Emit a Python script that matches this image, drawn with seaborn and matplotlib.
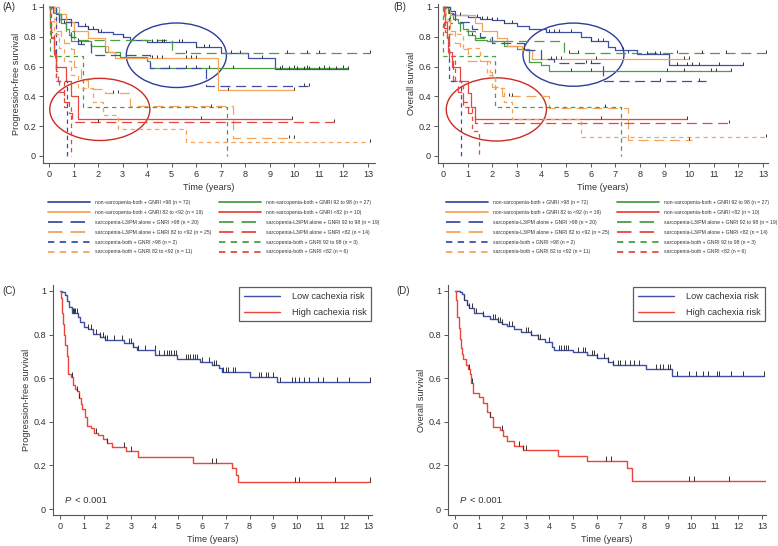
import numpy as np
import pandas as pd
import matplotlib
matplotlib.use("Agg")
import matplotlib.pyplot as plt
import seaborn as sns
from matplotlib.lines import Line2D
from matplotlib.patches import Ellipse
from matplotlib.path import Path

# ---------------- data ----------------
time_ticks = list(range(0, 14))
surv_ticks = [0, 0.2, 0.4, 0.6, 0.8, 1.0]
surv_tick_labels = ["0", "0.2", "0.4", "0.6", "0.8", "1"]

group_labels = [
    "non-sarcopenia-both + GNRI >98 (n = 72)",
    "non-sarcopenia-both + GNRI 92 to 98 (n = 27)",
    "non-sarcopenia-both + GNRI 82 to <92 (n = 19)",
    "non-sarcopenia-both + GNRI <82 (n = 10)",
    "sarcopenia-L3/PM alone + GNRI >98 (n = 20)",
    "sarcopenia-L3/PM alone + GNRI 92 to 98 (n = 19)",
    "sarcopenia-L3/PM alone + GNRI 82 to <92 (n = 25)",
    "sarcopenia-L3/PM alone + GNRI <82 (n = 14)",
    "sarcopenia-both + GNRI >98 (n = 2)",
    "sarcopenia-both + GNRI 92 to 98 (n = 3)",
    "sarcopenia-both + GNRI 82 to <92 (n = 11)",
    "sarcopenia-both + GNRI <82 (n = 6)",
]
cachexia_labels = ["Low cachexia risk", "High cachexia risk"]

# Panel A: progression-free survival by group
A_nb98_t = [0, 0.3, 0.5, 0.9, 1.2, 1.6, 2.0, 2.6, 3.0, 3.3, 4.0, 6.0, 7.0, 8.1, 9.2, 12.2]
A_nb98_s = [1, 0.95, 0.92, 0.90, 0.87, 0.85, 0.83, 0.82, 0.80, 0.78, 0.765, 0.73, 0.69, 0.655, 0.585, 0.585]
A_nb98_c = [1.45, 1.6, 1.8, 2.0, 2.1, 3.0, 4.2, 4.4, 4.6, 4.7, 5.3, 5.4, 6.0, 6.3, 6.5, 7.4, 7.8, 8.7,
            9.4, 9.8, 10.1, 10.4, 10.6, 11.0, 11.4, 11.7, 12.2]
A_nb92_t = [0, 0.2, 0.4, 0.5, 0.7, 0.8, 0.9, 1.7, 2.3, 2.9, 4.0, 4.1, 12.2]
A_nb92_s = [1, 0.96, 0.92, 0.89, 0.85, 0.81, 0.775, 0.74, 0.70, 0.665, 0.64, 0.59, 0.59]
A_nb92_c = [0.6, 1.2, 4.9, 5.6, 6.0, 6.5, 7.5, 9.5, 10.0, 10.5, 11.2, 12.0]
A_nb82_t = [0, 0.4, 0.7, 1.0, 1.6, 2.3, 2.4, 2.7, 6.9, 10.0]
A_nb82_s = [1, 0.95, 0.90, 0.84, 0.79, 0.74, 0.70, 0.655, 0.44, 0.44]
A_nb82_c = [4.2, 4.4, 4.6, 5.6, 5.8, 6.0, 7.3, 10.0]
A_nblo_t = [0, 0.05, 0.1, 0.2, 0.3, 0.7, 0.9, 1.2, 9.9]
A_nblo_s = [1, 0.9, 0.8, 0.7, 0.6, 0.5, 0.4, 0.25, 0.25]
A_nblo_c = [6.2, 9.9]
A_l98_t = [0, 0.15, 0.4, 0.9, 1.2, 1.7, 4.1, 6.4, 10.6]
A_l98_s = [1, 0.95, 0.90, 0.80, 0.75, 0.675, 0.59, 0.47, 0.47]
A_l98_c = [1.3, 10.4, 10.6]
A_l92_t = [0, 0.2, 0.5, 0.7, 1.0, 5.0, 13.1]
A_l92_s = [1, 0.95, 0.89, 0.84, 0.78, 0.69, 0.69]
A_l92_c = [5.6, 9.7, 10.5, 11.0, 13.1]
A_l82_t = [0, 0.2, 0.3, 0.5, 0.6, 0.9, 1.0, 1.3, 1.6, 2.3, 3.3, 7.5, 10.0]
A_l82_s = [1, 0.92, 0.84, 0.80, 0.76, 0.72, 0.60, 0.51, 0.45, 0.42, 0.335, 0.12, 0.12]
A_l82_c = [2.6, 2.8, 9.8, 10.0]
A_llo_t = [0, 0.05, 0.1, 0.2, 0.25, 0.3, 0.35, 0.4, 0.6, 0.8, 0.95, 11.6]
A_llo_s = [1, 0.86, 0.79, 0.71, 0.64, 0.57, 0.50, 0.43, 0.36, 0.29, 0.225, 0.225]
A_llo_c = [2.0, 11.6]
A_b98_t = [0, 0.3, 0.75]
A_b98_s = [1, 0.5, 0]
A_b92_t = [0, 0.02, 1.4, 7.25]
A_b92_s = [1, 0.67, 0.33, 0]
A_b92_c = [6.6]
A_b82_t = [0, 0.1, 0.2, 0.4, 0.6, 0.9, 1.2, 1.8, 2.2, 2.8, 5.6, 13.1]
A_b82_s = [1, 0.909, 0.818, 0.727, 0.636, 0.545, 0.455, 0.364, 0.273, 0.182, 0.091, 0.091]
A_b82_c = [13.1]
A_blo_t = [0, 0.1, 0.2, 0.3, 0.6, 0.9]
A_blo_s = [1, 0.83, 0.67, 0.5, 0.33, 0]

# Panel B: overall survival by group
B_nb98_t = [0, 0.3, 0.5, 1.0, 1.5, 2.0, 2.5, 3.0, 3.5, 4.2, 5.6, 6.0, 6.7, 7.0, 7.9, 9.2, 12.2]
B_nb98_s = [1, 0.97, 0.945, 0.93, 0.92, 0.91, 0.89, 0.875, 0.855, 0.83, 0.80, 0.775, 0.73, 0.71, 0.685, 0.61, 0.61]
B_nb98_c = [0.7, 1.4, 1.6, 1.8, 2.0, 2.2, 2.5, 2.8, 4.3, 4.5, 4.7, 5.2, 6.0, 6.3, 6.5, 7.3, 8.3, 8.6, 8.8,
            9.5, 9.9, 10.1, 10.4, 11.2, 12.2]
B_nb92_t = [0, 0.2, 0.4, 0.6, 0.8, 1.0, 1.3, 1.8, 2.5, 3.0, 3.5, 4.0, 4.3, 11.7]
B_nb92_s = [1, 0.96, 0.92, 0.89, 0.85, 0.81, 0.78, 0.77, 0.74, 0.715, 0.63, 0.61, 0.57, 0.57]
B_nb92_c = [1.2, 5.2, 6.0, 9.1, 9.8, 10.9, 11.1, 11.7]
B_nb82_t = [0, 0.3, 1.3, 1.6, 2.2, 2.6, 3.2, 3.6, 10.0]
B_nb82_s = [1, 0.947, 0.895, 0.84, 0.79, 0.74, 0.71, 0.65, 0.65]
B_nb82_c = [4.4, 4.6, 4.8, 6.2, 9.8, 10.0]
B_nblo_t = [0, 0.1, 0.15, 0.2, 0.35, 0.7, 1.0, 1.15, 1.3, 9.9]
B_nblo_s = [1, 0.9, 0.8, 0.7, 0.6, 0.5, 0.42, 0.33, 0.25, 0.25]
B_nblo_c = [6.4, 9.9]
B_l98_t = [0, 0.3, 0.5, 1.2, 1.5, 2.0, 3.3, 4.0, 4.5, 6.5, 10.7]
B_l98_s = [1, 0.95, 0.90, 0.85, 0.80, 0.76, 0.71, 0.65, 0.625, 0.5, 0.5]
B_l98_c = [3.3, 5.8, 6.0, 8.8, 10.4]
B_l92_t = [0, 0.1, 0.3, 0.7, 1.3, 1.9, 4.9, 13.1]
B_l92_s = [1, 0.95, 0.89, 0.84, 0.79, 0.77, 0.69, 0.69]
B_l92_c = [5.1, 5.5, 7.5, 9.5, 10.5, 11.5, 13.1]
B_l82_t = [0, 0.1, 0.3, 0.5, 0.7, 1.0, 1.9, 2.0, 2.4, 4.3, 7.5, 10.1]
B_l82_s = [1, 0.92, 0.84, 0.76, 0.72, 0.64, 0.565, 0.46, 0.40, 0.32, 0.11, 0.11]
B_l82_c = [2.7, 2.8, 10.0]
B_llo_t = [0, 0.05, 0.15, 0.25, 0.4, 0.6, 0.8, 1.0, 1.3, 11.6]
B_llo_s = [1, 0.86, 0.79, 0.64, 0.50, 0.43, 0.36, 0.29, 0.22, 0.22]
B_llo_c = [11.6]
B_b98_t = [0, 0.25, 0.75]
B_b98_s = [1, 0.5, 0]
B_b92_t = [0, 0.02, 2.1, 7.25]
B_b92_s = [1, 0.67, 0.33, 0]
B_b92_c = [6.6]
B_b82_t = [0, 0.1, 0.3, 0.8, 1.5, 1.8, 2.1, 2.5, 2.8, 5.6, 13.1]
B_b82_s = [1, 0.909, 0.818, 0.727, 0.636, 0.545, 0.455, 0.364, 0.25, 0.125, 0.125]
B_b82_c = [13.1]
B_blo_t = [0, 0.1, 0.25, 0.5, 0.8, 1.2, 1.45]
B_blo_s = [1, 0.83, 0.67, 0.5, 0.33, 0.17, 0]

# Panel C: progression-free survival by cachexia risk
C_low_t = [0, 0.1, 0.2, 0.3, 0.4, 0.5, 0.75, 0.85, 1.0, 1.2, 1.4, 1.7, 1.9, 2.7, 3.1, 3.25, 4.02, 4.95,
           5.9, 6.4, 6.7, 6.85, 8.0, 9.15, 13.1]
C_low_s = [1, 0.995, 0.98, 0.955, 0.925, 0.90, 0.88, 0.86, 0.835, 0.826, 0.805, 0.79, 0.775, 0.76, 0.745,
           0.73, 0.705, 0.69, 0.675, 0.66, 0.645, 0.628, 0.607, 0.582, 0.582]
C_low_c = [0.55, 0.6, 0.65, 0.7, 1.2, 1.3, 1.5, 1.7, 1.8, 1.9, 2.0, 2.3, 2.6, 2.9, 3.0, 3.1, 3.3, 3.6, 4.0,
           4.2, 4.4, 4.5, 4.6, 4.7, 4.8, 4.9, 5.3, 5.4, 5.5, 5.6, 5.7, 5.8, 6.0, 6.3, 6.5, 6.6, 6.9, 7.0,
           7.1, 7.3, 7.4, 8.4, 8.5, 8.7, 8.8, 9.0, 9.3, 9.8, 9.9, 10.1, 10.3, 10.5, 10.9, 11.1, 11.7,
           12.2, 13.1]
C_high_t = [0, 0.03, 0.07, 0.1, 0.14, 0.18, 0.22, 0.28, 0.35, 0.45, 0.55, 0.62, 0.7, 0.8, 0.88, 0.95,
            1.05, 1.15, 1.3, 1.45, 1.6, 1.8, 2.0, 2.2, 2.8, 3.3, 5.6, 7.25, 7.45, 7.52, 13.1]
C_high_s = [1, 0.97, 0.94, 0.90, 0.85, 0.80, 0.75, 0.70, 0.62, 0.605, 0.57, 0.55, 0.54, 0.51, 0.48, 0.46,
            0.42, 0.38, 0.37, 0.35, 0.34, 0.32, 0.305, 0.285, 0.265, 0.24, 0.213, 0.187, 0.155, 0.123, 0.123]
C_high_c = [0.5, 0.7, 0.8, 1.5, 2.0, 2.7, 3.0, 6.4, 6.6, 9.9, 10.1, 11.6, 13.1]

# Panel D: overall survival by cachexia risk
D_low_t = [0, 0.2, 0.3, 0.4, 0.5, 0.6, 0.8, 1.2, 1.5, 1.8, 2.0, 2.2, 2.5, 2.8, 3.2, 3.5, 3.8, 4.1, 4.2,
           5.0, 5.6, 6.0, 6.5, 6.7, 8.1, 9.2, 13.1]
D_low_s = [1, 0.995, 0.985, 0.96, 0.935, 0.92, 0.90, 0.885, 0.87, 0.86, 0.85, 0.84, 0.825, 0.81, 0.797,
           0.78, 0.765, 0.745, 0.73, 0.722, 0.706, 0.694, 0.675, 0.66, 0.64, 0.61, 0.61]
D_low_c = [0.4, 0.5, 0.6, 0.7, 0.9, 1.2, 1.6, 1.7, 1.8, 1.9, 2.0, 2.3, 2.4, 3.0, 3.1, 3.2, 3.5, 3.6, 4.0,
           4.4, 4.5, 4.6, 4.7, 4.8, 5.2, 5.4, 5.5, 5.8, 5.9, 6.0, 6.3, 6.5, 6.7, 6.9, 7.0, 7.2, 7.4, 7.6,
           7.8, 8.5, 8.7, 8.8, 9.0, 9.1, 9.4, 9.9, 10.2, 10.5, 10.7, 11.1, 11.2, 11.7, 12.2, 13.1]
D_high_t = [0, 0.03, 0.07, 0.1, 0.15, 0.2, 0.25, 0.3, 0.35, 0.45, 0.55, 0.62, 0.68, 0.75, 1.0, 1.2, 1.35,
            1.5, 1.6, 1.9, 2.05, 2.2, 2.5, 2.9, 4.35, 5.6, 7.3, 7.5, 13.2]
D_high_s = [1, 0.96, 0.92, 0.88, 0.83, 0.78, 0.74, 0.71, 0.69, 0.66, 0.64, 0.62, 0.58, 0.53, 0.515, 0.485,
            0.447, 0.424, 0.378, 0.363, 0.335, 0.31, 0.29, 0.27, 0.245, 0.22, 0.19, 0.128, 0.128]
D_high_c = [0.6, 0.7, 1.5, 2.0, 2.7, 2.9, 3.0, 6.4, 6.6, 9.9, 10.1, 11.6, 13.2]

# ---------------- styling ----------------
BLUE, GREEN, ORANGE, RED = "#3f4fa3", "#4a9e45", "#f4a45a", "#e8473d"
SOLID, LONG, SHORT = "-", (0, (8, 4.5)), (0, (3.5, 3))
CENS = "#333333"
TICK_UP = Path([(0, 0), (0, 1)], [Path.MOVETO, Path.LINETO])  # censor tick rising from the curve

sns.set_theme(style="ticks")
plt.rcParams["font.family"] = ["Liberation Sans", "DejaVu Sans"]
plt.rcParams["text.color"] = "#333333"

W, H = 778, 546
fig = plt.figure(figsize=(W / 100, H / 100), dpi=100)


def add_ax(l, r, t, b):
    return fig.add_axes([l / W, 1 - b / H, (r - l) / W, (b - t) / H])


def km(ax, t, s, color, ls, lw, cens=None, msize=20):
    df = pd.DataFrame({"time": t, "surv": s})
    sns.lineplot(data=df, x="time", y="surv", ax=ax, color=color, linestyle=ls, lw=lw,
                 drawstyle="steps-post", estimator=None, errorbar=None, sort=False, legend=False)
    if cens:
        idx = np.searchsorted(np.asarray(t), np.asarray(cens), side="right") - 1
        cdf = pd.DataFrame({"time": cens, "surv": np.asarray(s)[idx]})
        sns.scatterplot(data=cdf, x="time", y="surv", ax=ax, marker=TICK_UP, s=msize,
                        color=CENS, edgecolor=CENS, linewidth=0.7, legend=False, zorder=5)


def style_ax(ax, xlim, ylim, ylabel, fs=6.6):
    ax.set_xlim(*xlim)
    ax.set_ylim(*ylim)
    ax.set_xticks(time_ticks)
    ax.set_xticklabels([str(v) for v in time_ticks])
    ax.set_yticks(surv_ticks)
    ax.set_yticklabels(surv_tick_labels)
    sns.despine(ax=ax)
    for sp in ("left", "bottom"):
        ax.spines[sp].set_color("#555555")
        ax.spines[sp].set_linewidth(0.8)
    ax.tick_params(direction="out", length=3, width=0.7, colors="#555555",
                   labelcolor="#333333", labelsize=fs, pad=2)
    ax.set_xlabel("Time (years)", fontsize=fs, labelpad=3, color="#333333")
    ax.set_ylabel(ylabel, fontsize=fs, labelpad=2, color="#333333")


group_styles = [
    (BLUE, SOLID), (GREEN, SOLID), (ORANGE, SOLID), (RED, SOLID),
    (BLUE, LONG), (GREEN, LONG), (ORANGE, LONG), (RED, LONG),
    (BLUE, SHORT), (GREEN, SHORT), (ORANGE, SHORT), (RED, SHORT),
]

A_curves = [
    (A_nb98_t, A_nb98_s, A_nb98_c), (A_nb92_t, A_nb92_s, A_nb92_c),
    (A_nb82_t, A_nb82_s, A_nb82_c), (A_nblo_t, A_nblo_s, A_nblo_c),
    (A_l98_t, A_l98_s, A_l98_c), (A_l92_t, A_l92_s, A_l92_c),
    (A_l82_t, A_l82_s, A_l82_c), (A_llo_t, A_llo_s, A_llo_c),
    (A_b98_t, A_b98_s, None), (A_b92_t, A_b92_s, A_b92_c),
    (A_b82_t, A_b82_s, A_b82_c), (A_blo_t, A_blo_s, None),
]
B_curves = [
    (B_nb98_t, B_nb98_s, B_nb98_c), (B_nb92_t, B_nb92_s, B_nb92_c),
    (B_nb82_t, B_nb82_s, B_nb82_c), (B_nblo_t, B_nblo_s, B_nblo_c),
    (B_l98_t, B_l98_s, B_l98_c), (B_l92_t, B_l92_s, B_l92_c),
    (B_l82_t, B_l82_s, B_l82_c), (B_llo_t, B_llo_s, B_llo_c),
    (B_b98_t, B_b98_s, None), (B_b92_t, B_b92_s, B_b92_c),
    (B_b82_t, B_b82_s, B_b82_c), (B_blo_t, B_blo_s, None),
]

# ---------------- panels A and B ----------------
axA = add_ax(43, 375, 4, 163)
axB = add_ax(438, 768, 4, 163)
for ax, curves in ((axA, A_curves), (axB, B_curves)):
    for (t, s, c), (col, ls) in zip(curves, group_styles):
        km(ax, t, s, col, ls, 0.9, c, msize=22)

style_ax(axA, (-0.245, 13.285), (-0.047, 1.02), "Progression-free survival")
style_ax(axB, (-0.2, 13.2), (-0.047, 1.02), "Overall survival")

axA.add_patch(Ellipse((5.19, 0.676), 4.08, 0.433, fill=False, edgecolor="#2b3f97", lw=1.0))
axA.add_patch(Ellipse((2.07, 0.3125), 4.08, 0.417, fill=False, edgecolor="#cc2b20", lw=1.0))
axB.add_patch(Ellipse((5.3, 0.68), 4.1, 0.424, fill=False, edgecolor="#2b3f97", lw=1.0))
axB.add_patch(Ellipse((2.17, 0.3125), 4.07, 0.424, fill=False, edgecolor="#cc2b20", lw=1.0))

# legends under A and B (column-major order, 2 columns)
order = [0, 2, 4, 6, 8, 10, 1, 3, 5, 7, 9, 11]
for x0 in (48, 446):
    handles = [Line2D([], [], color=group_styles[i][0], linestyle=group_styles[i][1], lw=1.3)
               for i in order]
    labels = [group_labels[i] for i in order]
    fig.legend(handles, labels, loc="upper left", bbox_to_anchor=(x0 / W, 1 - 200 / H),
               ncol=2, frameon=False, fontsize=3.7, handlelength=8.2, handletextpad=1.0,
               columnspacing=1.4, labelspacing=0.95, borderpad=0, borderaxespad=0)

# ---------------- panels C and D ----------------
axC = add_ax(53, 372, 285, 515)
axD = add_ax(448, 766, 285, 515)
for ax, lt, ls_, lc, ht, hs, hc in (
        (axC, C_low_t, C_low_s, C_low_c, C_high_t, C_high_s, C_high_c),
        (axD, D_low_t, D_low_s, D_low_c, D_high_t, D_high_s, D_high_c)):
    km(ax, lt, ls_, BLUE, SOLID, 1.0, lc, msize=50)
    km(ax, ht, hs, RED, SOLID, 1.0, hc, msize=50)

style_ax(axC, (-0.295, 13.17), (-0.0275, 1.0275), "Progression-free survival")
style_ax(axD, (-0.297, 13.17), (-0.0275, 1.0275), "Overall survival")

for ax in (axC, axD):
    ax.text(0.2, 0.04, "P", fontstyle="italic", fontsize=6.8, ha="left", va="center")
    ax.text(0.62, 0.04, "< 0.001", fontsize=6.8, ha="left", va="center")
    hs = [Line2D([], [], color=BLUE, lw=1.0), Line2D([], [], color=RED, lw=1.0)]
    leg = ax.legend(hs, cachexia_labels, loc="upper right", bbox_to_anchor=(0.997, 0.99),
                    fontsize=6.6, frameon=True, fancybox=False, edgecolor="#333333",
                    handlelength=3.9, handletextpad=1.3, borderpad=0.5, labelspacing=0.75,
                    borderaxespad=0)
    leg.get_frame().set_linewidth(0.9)

# panel letters
for x, y, lab in ((2, 7, "(A)"), (393, 7, "(B)"), (2, 291, "(C)"), (396, 291, "(D)")):
    fig.text(x / W, 1 - y / H, lab, fontsize=7, ha="left", va="center", color="#333333")

fig.savefig("out.png", dpi=100)
